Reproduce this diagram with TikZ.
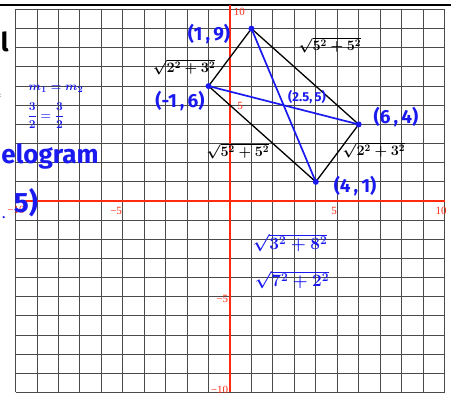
\documentclass[tikz,border=0pt]{standalone}
\usepackage{amsmath}
\usepackage{fontspec}
\setmainfont{Liberation Serif}
\newfontfamily\hand{Fira Sans}
\usepackage{tikz}
\usetikzlibrary{arrows.meta, positioning}
\tikzset{every node/.style={inner sep=0pt}}
\usepackage{xcolor}
\definecolor{penblue}{HTML}{1A1AF0}
\definecolor{axisred}{HTML}{FF2A10}
\definecolor{gridgray}{HTML}{4A4A4A}

\begin{document}
\begin{tikzpicture}[
    x=21.45pt, y=19.15pt,
    gridline/.style={draw=gridgray, line width=0.9pt},
    axisline/.style={draw=axisred, line width=1.6pt},
    ticklab/.style={text=axisred, font=\fontsize{11}{11}\selectfont},
    side/.style={draw=black, line width=1.3pt},
    diag/.style={draw=penblue, line width=1.7pt},
    vdot/.style={circle, fill=penblue, inner sep=0pt, minimum size=6pt},
    ptlab/.style={text=penblue, font=\hand\bfseries\fontsize{19}{19}\selectfont},
    lenlab/.style={text=black, font=\Large\boldmath},
    note/.style={text=penblue, font=\hand\bfseries\fontsize{26}{26}\selectfont},
  ]
  \useasboundingbox (-10.723,10.496) rectangle (10.303,-10.131);
  % paper grid
  \foreach \i in {-10,...,10} {
    \draw[gridline] (\i,-10) -- (\i,10);
    \draw[gridline] (-10,\i) -- (10,\i);
  }
  \draw[line width=2.5pt] (-10.723,10.235) -- (10.303,10.235);
  % axes
  \draw[axisline] (-10,0) -- (10,0);
  \draw[axisline] (0,-10) -- (0,10.235);
  \node[ticklab, anchor=west] (y10) at (0.17,9.9) {10};
  \node[ticklab, anchor=west] (y5) at (0.33,4.96) {5};
  \node[ticklab, anchor=east] (ym5) at (-0.08,-5.12) {−5};
  \node[ticklab, anchor=east] (ym10) at (-0.08,-9.85) {−10};
  \node[ticklab] (xm10) at (-9.98,-0.47) {−10};
  \node[ticklab] (xm5) at (-5.31,-0.52) {−5};
  \node[ticklab] (x5) at (4.85,-0.52) {5};
  \node[ticklab] (x10) at (9.84,-0.52) {10};
  % parallelogram
  \coordinate (P19) at (1,9);
  \coordinate (Pm16) at (-1,6);
  \coordinate (P64) at (6,4);
  \coordinate (P41) at (4,1);
  \coordinate (M) at (2.5,5);
  \draw[side] (P19) -- (P64) -- (P41) -- (Pm16) -- cycle;
  \draw[diag] (P19) -- (P41);
  \draw[diag] (Pm16) -- (P64);
  \foreach \p in {P19, Pm16, P64, P41} {
    \node[vdot] at (\p) {};
  }
  % vertex labels
  \node[ptlab] (l19) at (-0.98,8.72) {(1\,,\,9)};
  \node[ptlab] (lm16) at (-2.33,5.22) {(-1\,,\,6)};
  \node[ptlab] (l64) at (7.74,4.39) {(6\,,\,4)};
  \node[ptlab] (l41) at (5.83,0.78) {(4\,,\,1)};
  \node[ptlab, font=\hand\bfseries\fontsize{13}{13}\selectfont] (lM) at (3.59,5.43) {(2.5,\,5)};
  % side lengths
  \node[lenlab] (s1) at (-2.14,7.0) {$\sqrt{2^2+3^2}$};
  \node[lenlab] (s2) at (4.66,8.15) {$\sqrt{5^2+5^2}$};
  \node[lenlab] (s3) at (0.37,2.61) {$\sqrt{5^2+5^2}$};
  \node[lenlab] (s4) at (6.71,2.66) {$\sqrt{2^2+3^2}$};
  \node[lenlab, text=penblue, font=\LARGE\boldmath] (d1) at (2.80,-2.19) {$\sqrt{3^2+8^2}$};
  \node[lenlab, text=penblue, font=\LARGE\boldmath] (d2) at (2.89,-4.13) {$\sqrt{7^2+2^2}$};
  % notes cut off at the left
  \node[text=black, font=\hand\bfseries\fontsize{26}{26}\selectfont] (n1) at (-10.5,8.3) {l};
  \node[text=gridgray, font=\fontsize{7}{7}\selectfont] (n2) at (-10.68,5.48) {:};
  \node[text=penblue, font=\fontsize{13}{13}\selectfont\boldmath] (n3) at (-8.11,5.85) {$m_1 = m_2$};
  \node[text=penblue, font=\fontsize{13}{13}\selectfont\boldmath] (n4) at (-8.58,4.45) {$\dfrac{3}{2} = \dfrac{3}{2}$};
  \node[note] (n5) at (-8.39,2.3) {elogram};
  \node[note, font=\hand\bfseries\fontsize{28}{28}\selectfont] (n6) at (-9.51,-0.1) {5)};
  \node[note, font=\hand\bfseries\fontsize{12}{12}\selectfont] (n7) at (-10.54,-0.85) {.};
\end{tikzpicture}
\end{document}
